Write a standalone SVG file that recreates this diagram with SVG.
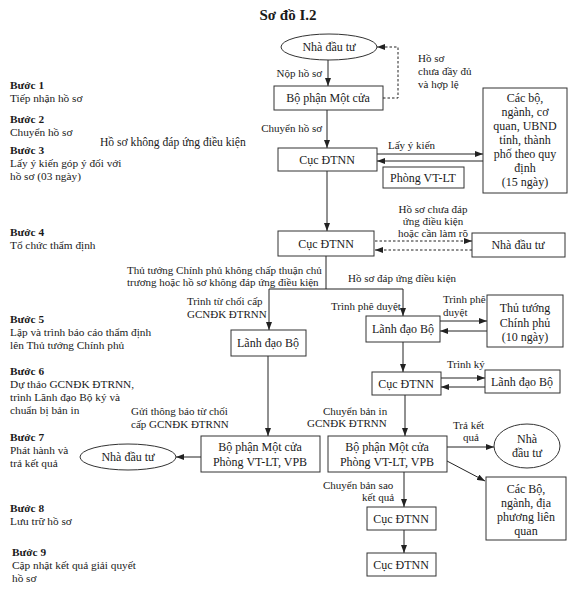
<svg xmlns="http://www.w3.org/2000/svg" width="576" height="591" viewBox="0 0 576 591">
<style>
text{font-family:"Liberation Serif","Times New Roman",serif;fill:#1a1a1a}
.t{font-size:15px;font-weight:bold}
.b{font-size:11.3px;font-weight:bold}
.s{font-size:11.3px}
.n{font-size:12px}
.l{font-size:11px}
.h{font-size:11.6px}
.box{fill:#fff;stroke:#333;stroke-width:1}
.c{fill:none;stroke:#222;stroke-width:1}
.d{fill:none;stroke:#222;stroke-width:1;stroke-dasharray:2.5,2}
.m{text-anchor:middle}
.e{text-anchor:end}
</style>
<defs>
<marker id="a" viewBox="0 0 8 6" refX="8" refY="3" markerWidth="8" markerHeight="6" markerUnits="userSpaceOnUse" orient="auto"><path d="M0,0 L8,3 L0,6 z" fill="#222"/></marker>
</defs>
<rect width="576" height="591" fill="#fff"/>
<text class="t m" x="288" y="20">Sơ đồ I.2</text>

<g id="steps">
<text class="b" x="10" y="89">Bước 1</text><text class="s" x="10" y="102">Tiếp nhận hồ sơ</text>
<text class="b" x="10" y="123">Bước 2</text><text class="s" x="10" y="136">Chuyển hồ sơ</text>
<text class="b" x="10" y="154">Bước 3</text><text class="s" x="10" y="167">Lấy ý kiến góp ý đối với</text><text class="s" x="10" y="180">hồ sơ (03 ngày)</text>
<text class="b" x="10" y="236">Bước 4</text><text class="s" x="10" y="249">Tổ chức thẩm định</text>
<text class="b" x="10" y="323">Bước 5</text><text class="s" x="10" y="336">Lập và trình báo cáo thẩm định</text><text class="s" x="10" y="349">lên Thủ tướng Chính phủ</text>
<text class="b" x="10" y="375">Bước 6</text><text class="s" x="10" y="388">Dự thảo GCNĐK ĐTRNN,</text><text class="s" x="10" y="401">trình Lãnh đạo Bộ ký và</text><text class="s" x="10" y="414">chuẩn bị bản in</text>
<text class="b" x="10" y="441">Bước 7</text><text class="s" x="10" y="454">Phát hành và</text><text class="s" x="10" y="467">trả kết quả</text>
<text class="b" x="10" y="512">Bước 8</text><text class="s" x="10" y="525">Lưu trữ hồ sơ</text>
<text class="b" x="12" y="556">Bước 9</text><text class="s" x="12" y="569">Cập nhật kết quả giải quyết</text><text class="s" x="12" y="582">hồ sơ</text>
</g>

<g id="connectors">
<path class="c" d="M328,60 V86" marker-end="url(#a)"/>
<path class="d" d="M383,98 H398 V47 H377" marker-end="url(#a)"/>
<path class="c" d="M327,110 V148" marker-end="url(#a)"/>
<path class="c" d="M377,154 H483" marker-end="url(#a)"/>
<path class="c" d="M483,161 H377" marker-end="url(#a)"/>
<path class="c" d="M327,171 V231" marker-end="url(#a)"/>
<path class="d" d="M375,241 H472" marker-end="url(#a)"/>
<path class="d" d="M472,250 H375" marker-end="url(#a)"/>
<path class="c" d="M326,256 V289 M269,289 H403"/>
<path class="c" d="M269,289 V330" marker-end="url(#a)"/>
<path class="c" d="M403,289 V316" marker-end="url(#a)"/>
<path class="c" d="M440,321 H487" marker-end="url(#a)"/>
<path class="c" d="M487,331 H440" marker-end="url(#a)"/>
<path class="c" d="M403,342 V372" marker-end="url(#a)"/>
<path class="c" d="M441,378 H485" marker-end="url(#a)"/>
<path class="c" d="M485,387 H441" marker-end="url(#a)"/>
<path class="c" d="M405,395 V436" marker-end="url(#a)"/>
<path class="c" d="M447,447 H494" marker-end="url(#a)"/>
<path class="c" d="M447,461 L485,481" marker-end="url(#a)"/>
<path class="c" d="M268,356 V436" marker-end="url(#a)"/>
<path class="c" d="M201,457 H176" marker-end="url(#a)"/>
<path class="c" d="M404,472 V507" marker-end="url(#a)"/>
<path class="c" d="M404,530 V553" marker-end="url(#a)"/>
</g>

<g id="labels">
<text class="l e" x="322" y="77">Nộp hồ sơ</text>
<text class="l" x="418" y="62">Hồ sơ</text><text class="l" x="418" y="75">chưa đầy đủ</text><text class="l" x="418" y="88">và hợp lệ</text>
<text class="l e" x="322" y="132">Chuyển hồ sơ</text>
<text class="h" x="100" y="146">Hồ sơ không đáp ứng điều kiện</text>
<text class="l" x="388" y="149">Lấy ý kiến</text>
<text class="l m" x="433" y="213">Hồ sơ chưa đáp</text><text class="l m" x="433" y="225">ứng điều kiện</text><text class="l m" x="433" y="237">hoặc cần làm rõ</text>
<text class="l" x="127" y="274">Thủ tướng Chính phủ không chấp thuận chủ</text>
<text class="l" x="127" y="286">trương hoặc hồ sơ không đáp ứng điều kiện</text>
<text class="l" x="348" y="282">Hồ sơ đáp ứng điều kiện</text>
<text class="l" x="187" y="305">Trình từ chối cấp</text><text class="l" x="187" y="318">GCNĐK ĐTRNN</text>
<text class="l" x="331" y="310">Trình phê duyệt</text>
<text class="l" x="443" y="303">Trình phê</text><text class="l" x="443" y="316">duyệt</text>
<text class="l" x="447" y="368">Trình ký</text>
<text class="l" x="323" y="415">Chuyển bản in</text><text class="l" x="307" y="427">GCNĐK ĐTRNN</text>
<text class="l" x="131" y="415">Gửi thông báo từ chối</text><text class="l" x="131" y="428">cấp GCNĐK ĐTRNN</text>
<text class="l" x="453" y="429">Trả kết</text><text class="l" x="463" y="441">quả</text>
<text class="l" x="323" y="489">Chuyển bản sao</text><text class="l" x="362" y="501">kết quả</text>
</g>

<g id="n-nhadautu1"><ellipse class="box" cx="329" cy="47" rx="48" ry="13"/><text class="n m" x="329" y="51">Nhà đầu tư</text></g>
<g id="n-motcua1"><rect class="box" x="274" y="86" width="109" height="24"/><text class="n m" x="328" y="102">Bộ phận Một cửa</text></g>
<g id="n-cuc3"><rect class="box" x="278" y="148" width="99" height="23"/><text class="n m" x="327" y="164">Cục ĐTNN</text></g>
<g id="n-phongvt"><rect class="box" x="383" y="167" width="81" height="21"/><text class="n m" x="423" y="182">Phòng VT-LT</text></g>
<g id="n-cacbo1"><rect class="box" x="483" y="88" width="84" height="105"/>
<text class="n m" x="525" y="102">Các bộ,</text><text class="n m" x="525" y="116">ngành, cơ</text><text class="n m" x="525" y="130">quan, UBND</text><text class="n m" x="525" y="144">tỉnh, thành</text><text class="n m" x="525" y="158">phố theo quy</text><text class="n m" x="525" y="172">định</text><text class="n m" x="525" y="186">(15 ngày)</text></g>
<g id="n-cuc4"><rect class="box" x="278" y="231" width="96" height="25"/><text class="n m" x="326" y="248">Cục ĐTNN</text></g>
<g id="n-nhadautu2"><rect class="box" x="472" y="233" width="93" height="24"/><text class="n m" x="518" y="249">Nhà đầu tư</text></g>
<g id="n-lanhdao-l"><rect class="box" x="231" y="330" width="75" height="26"/><text class="n m" x="268" y="347">Lãnh đạo Bộ</text></g>
<g id="n-lanhdao-r"><rect class="box" x="366" y="316" width="74" height="26"/><text class="n m" x="403" y="333">Lãnh đạo Bộ</text></g>
<g id="n-thutuong"><rect class="box" x="487" y="295" width="76" height="52"/><text class="n m" x="525" y="312">Thủ tướng</text><text class="n m" x="525" y="327">Chính phủ</text><text class="n m" x="525" y="341">(10 ngày)</text></g>
<g id="n-cuc6"><rect class="box" x="372" y="372" width="69" height="23"/><text class="n m" x="406" y="388">Cục ĐTNN</text></g>
<g id="n-lanhdao6"><rect class="box" x="485" y="370" width="75" height="23"/><text class="n m" x="522" y="386">Lãnh đạo Bộ</text></g>
<g id="n-motcua-l"><rect class="box" x="201" y="436" width="119" height="36"/><text class="n m" x="260" y="451">Bộ phận Một cửa</text><text class="n m" x="260" y="466">Phòng VT-LT, VPB</text></g>
<g id="n-nhadautu3"><ellipse class="box" cx="128" cy="457" rx="48" ry="13"/><text class="n m" x="128" y="461">Nhà đầu tư</text></g>
<g id="n-motcua-r"><rect class="box" x="328" y="436" width="119" height="36"/><text class="n m" x="387" y="451">Bộ phận Một cửa</text><text class="n m" x="387" y="466">Phòng VT-LT, VPB</text></g>
<g id="n-nhadautu4"><ellipse class="box" cx="527" cy="446" rx="33" ry="22"/><text class="n m" x="527" y="443">Nhà</text><text class="n m" x="527" y="457">đầu tư</text></g>
<g id="n-cacbo2"><rect class="box" x="486" y="477" width="80" height="63"/><text class="n m" x="526" y="493">Các Bộ,</text><text class="n m" x="526" y="507">ngành, địa</text><text class="n m" x="526" y="521">phương liên</text><text class="n m" x="526" y="535">quan</text></g>
<g id="n-cuc8"><rect class="box" x="367" y="507" width="69" height="23"/><text class="n m" x="401" y="523">Cục ĐTNN</text></g>
<g id="n-cuc9"><rect class="box" x="367" y="553" width="69" height="23"/><text class="n m" x="401" y="569">Cục ĐTNN</text></g>
</svg>
